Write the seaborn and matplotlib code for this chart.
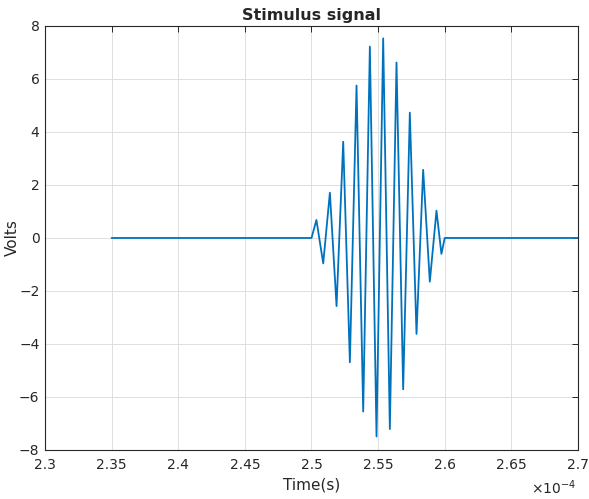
import matplotlib
matplotlib.use("Agg")
import matplotlib.pyplot as plt
import seaborn as sns
import pandas as pd
from matplotlib.ticker import FuncFormatter

# Time in units of 1e-4 s, voltage in volts
time_1e4 = [2.35, 2.500,
            2.5037, 2.5088, 2.5138, 2.5188, 2.5238, 2.5288, 2.5338, 2.5388,
            2.5438, 2.5488, 2.5538, 2.5588, 2.5638, 2.5688, 2.5738, 2.5788,
            2.5838, 2.5888, 2.5938, 2.5975,
            2.600, 2.70]
volts = [0.0, 0.0,
         0.68, -0.96, 1.71, -2.57, 3.63, -4.69, 5.75, -6.55,
         7.22, -7.49, 7.53, -7.21, 6.62, -5.71, 4.73, -3.62,
         2.57, -1.65, 1.03, -0.60,
         0.0, 0.0]

x_ticks = [2.3, 2.35, 2.4, 2.45, 2.5, 2.55, 2.6, 2.65, 2.7]
y_ticks = [-8, -6, -4, -2, 0, 2, 4, 6, 8]

sns.set_style("white")
plt.rcParams['font.family'] = ['DejaVu Sans']

df = pd.DataFrame({"t": time_1e4, "v": volts})

fig = plt.figure(figsize=(5.89, 4.99), dpi=100)
ax = fig.add_axes([0.0764, 0.0982, 0.9049, 0.8498])
sns.lineplot(data=df, x="t", y="v", ax=ax, color="#0072BD", linewidth=1.3,
             sort=False, estimator=None)

ax.set_xlim(2.3, 2.7)
ax.set_ylim(-8, 8)
ax.set_xticks(x_ticks)
ax.set_yticks(y_ticks)
ax.xaxis.set_major_formatter(FuncFormatter(lambda v, p: f"{v:g}"))
ax.grid(True, color="#dedede", linewidth=0.7)
for s in ax.spines.values():
    s.set_color("#262626")
    s.set_linewidth(0.8)
ax.tick_params(direction="in", top=True, right=True, length=4, width=0.7,
               colors="#262626", labelsize=10)
ax.tick_params(axis="x", pad=6)
ax.tick_params(axis="y", pad=4)
ax.set_xlabel("Time(s)", fontsize=11, color="#262626", labelpad=4)
ax.set_ylabel("Volts", fontsize=11, color="#262626")
ax.yaxis.set_label_coords(-0.048, 0.5)
ax.set_title("Stimulus signal", fontsize=11.5, fontweight="bold", pad=4)
fig.text(0.978, 0.01, r"$\times10^{-4}$", fontsize=10, color="#262626",
         ha="right")

fig.savefig("out.png", dpi=100)
